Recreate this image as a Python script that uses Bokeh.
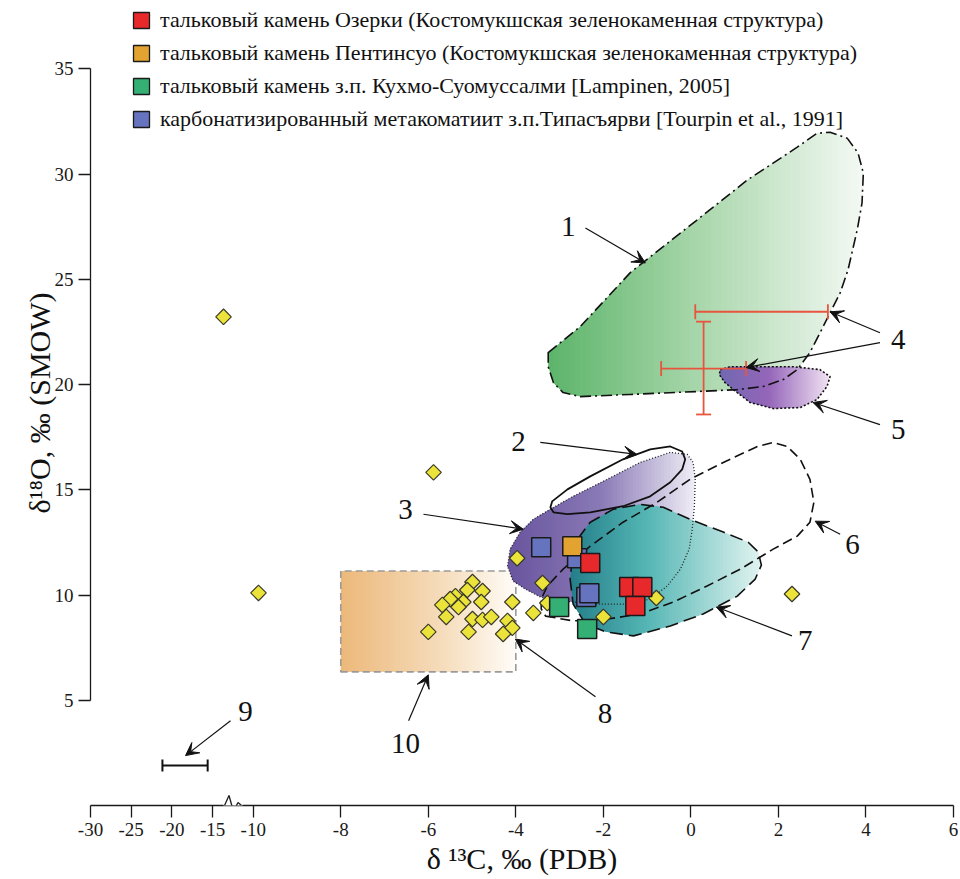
import numpy as np
from bokeh.plotting import figure
from bokeh.models import (ColumnDataSource, FixedTicker, CustomJSTickFormatter, Label,
                          Arrow, VeeHead, TeeHead, Whisker, Legend, LegendItem,
                          LinearAxis, Range1d)
from bokeh.embed import file_html
from bokeh.resources import INLINE

FONT = "Liberation Serif, Times New Roman, serif"

# ---------------- data ----------------
x_ticks = [-30, -25, -20, -15, -10, -8, -6, -4, -2, 0, 2, 4, 6]
y_ticks = [5, 10, 15, 20, 25, 30, 35]

# 8 - carbonates (yellow diamonds): d13C, d18O
dia_c = [-3.97, -4.99, -4.76, -5.11, -5.38, -5.50, -5.68, -5.20, -4.79, -5.31, -4.08,
         -5.59, -4.99, -4.76, -4.56, -4.19, -4.08, -4.29, -5.08, -6.00, -3.60, -3.39,
         -3.28, -2.00, -0.79, 2.31, -5.88, -9.88, -13.65]
dia_o = [11.75, 10.62, 10.19, 10.24, 9.95, 9.81, 9.53, 9.67, 9.67, 9.43, 9.67,
         8.96, 8.86, 8.82, 8.96, 8.77, 8.44, 8.15, 8.25, 8.25, 9.15, 10.57,
         9.62, 8.96, 9.86, 10.05, 15.83, 10.10, 23.22]

# talc stones / metakomatiite (squares)
ozerki_c = [-2.30, -1.41, -1.11, -1.27]
ozerki_o = [11.52, 10.38, 10.38, 9.48]
pentin_c = [-2.71]
pentin_o = [12.32]
kuhmo_c = [-3.01, -2.37]
kuhmo_o = [9.43, 8.39]
tipas_c = [-3.42, -2.60, -2.39, -2.32]
tipas_o = [12.27, 11.75, 9.91, 10.09]

legend_labels = [
    "тальковый камень Озерки (Костомукшская зеленокаменная структура)",
    "тальковый камень Пентинсуо (Костомукшская зеленокаменная структура)",
    "тальковый камень з.п. Кухмо-Суомуссалми [Lampinen, 2005]",
    "карбонатизированный метакоматиит з.п.Типасъярви [Tourpin et al., 1991]",
]
legend_colors = ["#e8292b", "#e3a330", "#35b075", "#6674bf"]

# 4 - error bars (two samples)
eb4h_o = [20.76, 23.46]
eb4h_lo = [-0.68, 0.10]
eb4h_hi = [1.26, 3.13]
eb4v_c = [0.29]
eb4v_lo = [18.58]
eb4v_hi = [22.99]
# 9 - error bar
eb9_o = [1.90]
eb9_lo = [-21.16]
eb9_hi = [-15.60]

# fields
f1_c = [-3.26, -2.53, -1.39, 0.14, 1.29, 2.43, 2.88, 3.18, 3.57, 3.82, 3.94, 3.91, 3.80, 3.59,
        3.41, 3.18, 2.95, 2.72, 2.43, 2.11, 1.65, 1.06, 0.14, -1.39, -2.53, -2.92, -3.14, -3.26]
f1_o = [21.52, 22.75, 25.31, 27.82, 29.72, 31.28, 31.94, 31.99, 31.71, 31.00, 30.05, 28.63, 27.35, 25.45,
        24.36, 23.41, 22.46, 21.52, 20.71, 20.24, 19.91, 19.76, 19.67, 19.53, 19.43, 19.62, 20.09, 20.85]

f5_c = [0.67, 0.90, 1.51, 2.34, 2.95, 3.18, 3.11, 2.88, 2.50, 1.88, 1.35, 1.06, 0.78, 0.65]
f5_o = [20.71, 20.85, 20.85, 20.85, 20.71, 20.38, 19.91, 19.29, 18.91, 18.86, 19.15, 19.62, 20.09, 20.47]

f2_c = [-3.21, -3.17, -2.82, -2.30, -1.55, -0.93, -0.47, -0.20, -0.13, -0.20, -0.47, -0.93, -1.55, -2.30, -2.82, -3.14]
f2_o = [14.17, 14.45, 15.02, 15.64, 16.45, 16.92, 17.06, 16.82, 16.45, 15.97, 15.36, 14.69, 14.22, 13.93, 13.84, 13.93]

f3_c = [-4.19, -4.13, -3.90, -3.60, -3.21, -2.69, -1.91, -1.16, -0.47, -0.08, 0.05, 0.10, 0.08, 0.03,
        -0.04, -0.24, -0.54, -0.93, -1.50, -2.07, -2.98, -3.44, -3.78, -4.06]
f3_o = [11.37, 12.18, 12.99, 13.60, 14.08, 14.69, 15.50, 16.30, 16.78, 16.68, 16.30, 15.50, 14.22, 13.13,
        12.18, 11.23, 10.43, 9.81, 9.57, 9.57, 9.72, 9.91, 10.28, 10.66]

f7_c = [-2.59, -2.30, -1.77, -1.16, -0.63, -0.02, 0.74, 1.31, 1.54, 1.61, 1.47, 1.06, 0.28, -0.47,
        -1.31, -1.95, -2.41, -2.69, -2.76, -2.71]
f7_o = [12.65, 13.46, 14.08, 14.31, 14.17, 13.60, 12.99, 12.51, 12.04, 11.42, 10.76, 9.95, 9.10, 8.53,
        8.06, 8.25, 8.63, 9.57, 10.76, 11.71]

f6_c = [-3.32, -2.69, -1.91, -1.16, -0.40, 0.37, 1.13, 1.88, 2.43, 2.72, 2.81, 2.72, 2.50, 2.20,
        1.88, 1.52, 0.74, -0.02, -0.77, -1.55, -2.30, -2.92, -3.28, -3.42, -3.42]
f6_o = [9.00, 8.77, 8.86, 9.10, 9.67, 10.43, 11.23, 12.18, 12.80, 13.46, 14.41, 15.50, 16.45, 17.06,
        17.25, 17.06, 16.30, 15.50, 14.41, 13.46, 12.32, 11.23, 10.43, 9.81, 9.34]

f10_c = [-8.0, -4.0]
f10_o = [6.35, 11.14]

# numbered labels: text, label position, arrows (start -> end)
num_text = ["1", "2", "3", "4", "5", "6", "7", "8", "9", "10"]
num_c = [-2.80, -3.94, -6.52, 4.74, 4.74, 3.69, 2.61, -1.96, -10.95, -6.52]
num_o = [27.49, 17.30, 14.08, 22.13, 17.87, 12.42, 7.82, 4.36, 4.45, 2.94]
arr_c0 = [-2.41, -3.44, -6.11, 4.32, 4.32, 4.32, 3.41, 2.31, -2.18, -12.79, -6.45]
arr_o0 = [27.44, 17.25, 13.84, 22.46, 21.99, 18.10, 12.89, 8.06, 5.17, 4.03, 4.03]
arr_c1 = [-1.04, -1.23, -3.83, 3.18, 1.26, 2.79, 2.84, 0.58, -4.01, -18.32, -6.00]
arr_o1 = [25.78, 16.68, 13.13, 23.46, 20.81, 19.15, 13.51, 9.43, 7.91, 2.37, 6.21]

# ---------------- axis break transform ----------------
K = 0.1859  # compression of the d13C axis left of -10


def xu(c):
    return c if c >= -10 else -10 + (c + 10) * K


def xul(cs):
    return [xu(c) for c in cs]


# ---------------- gradient helpers ----------------
def _clip(poly, x0, keep_greater):
    out = []
    n = len(poly)
    for i in range(n):
        cur, prev = poly[i], poly[i - 1]
        cin = cur[0] >= x0 if keep_greater else cur[0] <= x0
        pin = prev[0] >= x0 if keep_greater else prev[0] <= x0
        if cin:
            if not pin:
                t = (x0 - prev[0]) / (cur[0] - prev[0])
                out.append((x0, prev[1] + t * (cur[1] - prev[1])))
            out.append(cur)
        elif pin:
            t = (x0 - prev[0]) / (cur[0] - prev[0])
            out.append((x0, prev[1] + t * (cur[1] - prev[1])))
    return out


def _color(t, stops):
    for (t0, c0), (t1, c1) in zip(stops[:-1], stops[1:]):
        if t <= t1:
            f = (t - t0) / (t1 - t0) if t1 > t0 else 0
            rgb = [int(round(a + f * (b - a))) for a, b in zip(c0, c1)]
            return "#%02x%02x%02x" % tuple(rgb)
    return "#%02x%02x%02x" % tuple(stops[-1][1])


def gradient_fill(p, xs, ys, stops, n=60):
    poly = list(zip(xs, ys))
    xmin, xmax = min(xs), max(xs)
    w = (xmax - xmin) / n
    pxs, pys, cols = [], [], []
    for i in range(n):
        a = xmin + i * w
        b = a + w * 1.6
        piece = _clip(_clip(poly, a, True), b, False)
        if len(piece) < 3:
            continue
        pxs.append([q[0] for q in piece])
        pys.append([q[1] for q in piece])
        cols.append(_color((i + 0.5) / n, stops))
    p.patches(pxs, pys, fill_color=cols, line_color=None)


# ---------------- figure ----------------
p = figure(width=958, height=877, output_backend="svg", toolbar_location=None,
           x_range=Range1d(xu(-30), 6), y_range=Range1d(0, 38.25),
           x_axis_type=None, y_axis_type=None, title=None,
           min_border_left=90, min_border_right=5, min_border_top=0, min_border_bottom=70)
p.outline_line_color = None
p.background_fill_color = "white"

xaxis = LinearAxis(ticker=FixedTicker(ticks=xul(x_ticks)), bounds=(xu(-30), 6),
                   formatter=CustomJSTickFormatter(code=f"""
const K = {K};
const c = tick >= -10 ? tick : -10 + (tick + 10) / K;
return String(Math.round(c));
"""))
yaxis = LinearAxis(ticker=FixedTicker(ticks=y_ticks), bounds=(5, 35))
for ax in (xaxis, yaxis):
    ax.axis_line_color = "#1a1a1a"
    ax.axis_line_width = 1.3
    ax.major_tick_line_color = "#1a1a1a"
    ax.major_tick_line_width = 1.3
    ax.major_tick_out = 12
    ax.major_tick_in = 0
    ax.minor_tick_out = 0
    ax.minor_tick_in = 0
    ax.major_label_text_font = FONT
    ax.major_label_text_font_size = "19px"
    ax.major_label_text_color = "#1a1a1a"
    ax.major_label_standoff = 5
    ax.axis_label_text_font = FONT
    ax.axis_label_text_font_style = "normal"
    ax.axis_label_text_color = "#111"
    ax.axis_label_text_font_size = "30px"
xaxis.axis_label_standoff = 3
yaxis.axis_label_standoff = -4
xaxis.axis_label = "δ ¹³C, ‰ (PDB)"
yaxis.axis_label = "δ¹⁸O, ‰ (SMOW)"
p.add_layout(xaxis, "below")
p.add_layout(yaxis, "left")

# axis break symbol (screen units, relative to frame bottom-left)
p.add_layout(Arrow(x_start=133, y_start=0, x_end=152, y_end=0, start_units="screen",
                   end_units="screen", end=None, line_color="white", line_width=5))
zz_x = [134, 138.5, 143, 147.5, 151]
zz_y = [0, 10, -6, 3, 0]
for i in range(len(zz_x) - 1):
    p.add_layout(Arrow(x_start=zz_x[i], y_start=zz_y[i], x_end=zz_x[i + 1], y_end=zz_y[i + 1],
                       start_units="screen", end_units="screen", end=None,
                       line_color="#1a1a1a", line_width=1.3))

# field 10 (orange rectangle)
gradient_fill(p, xul([f10_c[0], f10_c[1], f10_c[1], f10_c[0]]),
              [f10_o[0], f10_o[0], f10_o[1], f10_o[1]],
              [(0, (236, 184, 122)), (0.6, (246, 222, 190)), (1, (255, 252, 248))])
p.patch(xul([f10_c[0], f10_c[1], f10_c[1], f10_c[0]]), [f10_o[0], f10_o[0], f10_o[1], f10_o[1]],
        fill_color=None, line_color="#9a9a9a", line_width=1.6, line_dash="7 4")

# field 1 and 5
gradient_fill(p, xul(f1_c), f1_o, [(0, (92, 180, 106)), (0.5, (172, 216, 174)), (1, (244, 249, 244))])
gradient_fill(p, xul(f5_c), f5_o, [(0, (112, 104, 176)), (0.45, (150, 102, 186)), (1, (242, 228, 244))])
p.patch(xul(f5_c), f5_o, fill_color=None, line_color="#111", line_width=1.6, line_dash="2 2")
p.patch(xul(f1_c), f1_o, fill_color=None, line_color="#111", line_width=1.6,
        line_dash="11 4 2 4", line_join="round")

# field 3 and 7
gradient_fill(p, xul(f3_c), f3_o, [(0, (104, 84, 158)), (0.5, (138, 122, 182)), (1, (240, 238, 246))])
gradient_fill(p, xul(f7_c), f7_o, [(0, (36, 126, 138)), (0.4, (84, 182, 180)), (1, (226, 244, 241))])
p.patch(xul(f3_c), f3_o, fill_color=None, line_color="#222", line_width=1.3, line_dash="1 2")
p.patch(xul(f2_c), f2_o, fill_color=None, line_color="#111", line_width=1.8, line_join="round")
p.patch(xul(f6_c), f6_o, fill_color=None, line_color="#111", line_width=1.6, line_dash="10 5",
        line_join="round")
p.patch(xul(f7_c), f7_o, fill_color=None, line_color="#111", line_width=1.6, line_dash="13 6",
        line_join="round")

# error bars 4 (red) and 9 (black)
RED = "#e8553e"
p.add_layout(Whisker(source=ColumnDataSource(dict(b=eb4h_o, lo=xul(eb4h_lo), hi=xul(eb4h_hi))),
                     base="b", lower="lo", upper="hi", dimension="width", level="annotation",
                     line_color=RED, line_width=1.8,
                     upper_head=TeeHead(size=15, line_color=RED, line_width=1.8),
                     lower_head=TeeHead(size=15, line_color=RED, line_width=1.8)))
p.add_layout(Whisker(source=ColumnDataSource(dict(b=xul(eb4v_c), lo=eb4v_lo, hi=eb4v_hi)),
                     base="b", lower="lo", upper="hi", dimension="height", level="annotation",
                     line_color=RED, line_width=1.8,
                     upper_head=TeeHead(size=15, line_color=RED, line_width=1.8),
                     lower_head=TeeHead(size=15, line_color=RED, line_width=1.8)))
p.add_layout(Whisker(source=ColumnDataSource(dict(b=eb9_o, lo=xul(eb9_lo), hi=xul(eb9_hi))),
                     base="b", lower="lo", upper="hi", dimension="width", level="annotation",
                     line_color="#111", line_width=2,
                     upper_head=TeeHead(size=12, line_color="#111", line_width=2),
                     lower_head=TeeHead(size=12, line_color="#111", line_width=2)))

# diamonds
p.scatter(xul(dia_c), dia_o, marker="square", angle=np.pi / 4, size=11,
          fill_color="#ece33a", line_color="#3a3a2a", line_width=1.2)

# squares
SQ = 19
p.scatter(xul(tipas_c), tipas_o, marker="square", size=SQ, fill_color=legend_colors[3],
          line_color="#1a1a1a", line_width=1.5)
p.scatter(xul(pentin_c), pentin_o, marker="square", size=SQ, fill_color=legend_colors[1],
          line_color="#1a1a1a", line_width=1.5)
p.scatter(xul(ozerki_c), ozerki_o, marker="square", size=SQ, fill_color=legend_colors[0],
          line_color="#1a1a1a", line_width=1.5)
p.scatter(xul(kuhmo_c), kuhmo_o, marker="square", size=SQ, fill_color=legend_colors[2],
          line_color="#1a1a1a", line_width=1.5)

# numbered labels and arrows
for t, c, o in zip(num_text, num_c, num_o):
    p.add_layout(Label(x=xu(c), y=o, text=t, text_font=FONT, text_font_size="29px",
                       text_align="center", text_baseline="middle", text_color="#111"))
for c0, o0, c1, o1 in zip(arr_c0, arr_o0, arr_c1, arr_o1):
    p.add_layout(Arrow(x_start=xu(c0), y_start=o0, x_end=xu(c1), y_end=o1,
                       line_color="#111", line_width=1.2,
                       end=VeeHead(size=13, fill_color="#111", line_color="#111", line_width=1)))

# legend (swatches only; NaN geometry so nothing is drawn in the plot area)
items = []
for lab, col in zip(legend_labels, legend_colors):
    r = p.quad(left=[np.nan], right=[np.nan], top=[np.nan], bottom=[np.nan],
               fill_color=col, line_color="#1a1a1a", line_width=1.3)
    items.append(LegendItem(label=lab, renderers=[r]))
legend = Legend(items=items, location=(41, 673), orientation="vertical",
                glyph_width=20, glyph_height=20, label_height=26, spacing=7,
                padding=0, margin=0, border_line_color=None, background_fill_alpha=0,
                label_standoff=9, label_text_font=FONT, label_text_font_size="22px",
                label_text_color="#111", label_text_baseline="middle")
p.add_layout(legend, "center")

open("out.html", "w").write(file_html(p, INLINE))
